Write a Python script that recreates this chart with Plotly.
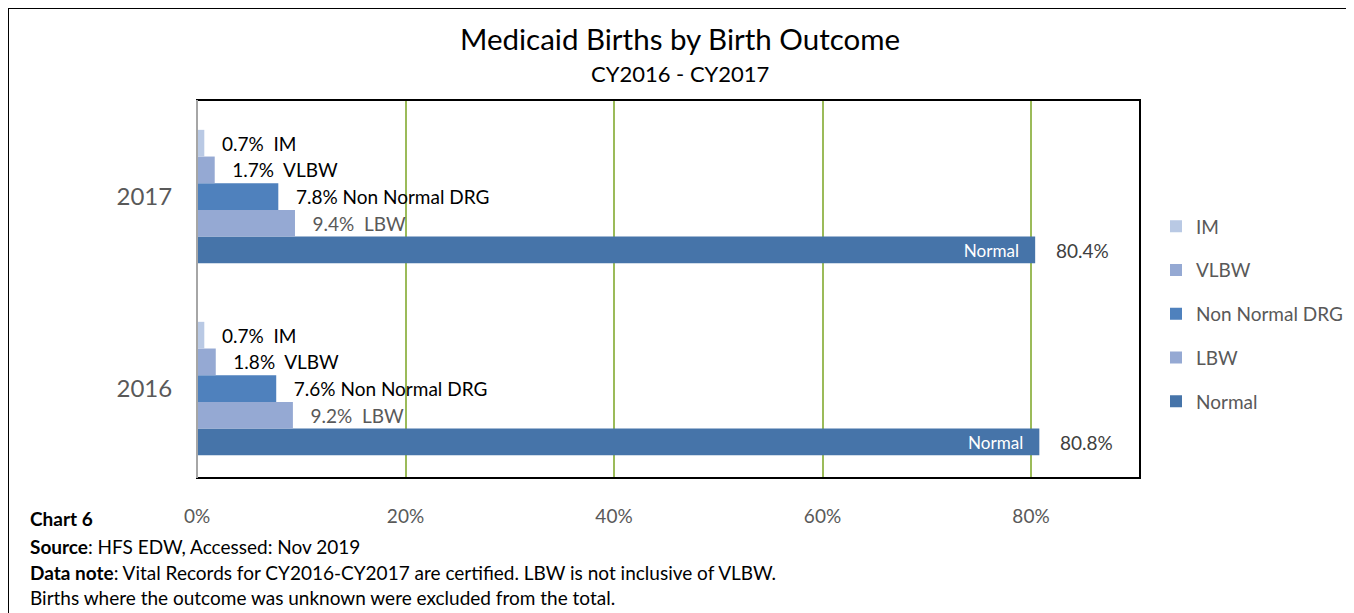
import plotly.graph_objects as go

years = ["2016", "2017"]
series = ["Normal", "LBW", "Non Normal DRG", "VLBW", "IM"]
values = {
    "Normal": [80.8, 80.4],
    "LBW": [9.2, 9.4],
    "Non Normal DRG": [7.6, 7.8],
    "VLBW": [1.8, 1.7],
    "IM": [0.7, 0.7],
}
colors = {
    "Normal": "#4674A9",
    "LBW": "#95A9D3",
    "Non Normal DRG": "#4F81BD",
    "VLBW": "#95A9D3",
    "IM": "#B9C9E4",
}
label_colors = {
    "LBW": "#595959",
    "Non Normal DRG": "#000000",
    "VLBW": "#000000",
    "IM": "#000000",
}
legend_rank = {"IM": 1, "VLBW": 2, "Non Normal DRG": 3, "LBW": 4, "Normal": 5}
xticks = [0, 20, 40, 60, 80]
FONT = "Lato, Carlito, Calibri, sans-serif"
NB = "\u00a0"

OFF = 8  # page body margin
W, H = 1354 - OFF, 613 - OFF
L, R, T, B = 197 - OFF, 1140 - OFF, 100 - OFF, 478 - OFF
pw, ph = R - L, B - T

def px(x):  # screen x -> paper
    return (x - OFF - L) / pw

def py(y):  # screen y -> paper
    return (B - (y - OFF)) / ph

fig = go.Figure()
for s in series:
    if s == "Normal":
        txt = ["Normal" + NB * 3] * len(years)
        fig.add_trace(go.Bar(
            y=years, x=values[s], name=s, orientation="h",
            marker=dict(color=colors[s], line=dict(width=0)),
            text=txt, textposition="inside", insidetextanchor="end",
            textfont=dict(color="white", size=19, family=FONT),
            legendgroup=s, legendrank=legend_rank[s],
        ))
    else:
        spacer = NB if s == "Non Normal DRG" else NB * 2
        txt = [NB * 3 + f"{v:.1f}%{spacer}{s}" for v in values[s]]
        fig.add_trace(go.Bar(
            y=years, x=values[s], name=s, orientation="h",
            marker=dict(color=colors[s], line=dict(width=0)),
            text=txt, textposition="outside",
            textfont=dict(color=label_colors[s], size=19, family=FONT),
            legendgroup=s, legendrank=legend_rank[s], cliponaxis=False,
        ))

annotations = []
for i, v in enumerate(values["Normal"]):
    annotations.append(dict(
        x=v, y=i, xref="x", yref="y", yshift=-53.5,
        text=f"{v:.1f}%", showarrow=False, xanchor="left", xshift=19,
        font=dict(size=19, color="#404040", family=FONT),
    ))

annotations += [
    dict(x=px(680), y=py(38), xref="paper", yref="paper", text="Medicaid Births by Birth Outcome",
         showarrow=False, font=dict(size=29.5, color="#000000", family=FONT), xanchor="center", yanchor="middle"),
    dict(x=px(680), y=py(73), xref="paper", yref="paper", text="CY2016 - CY2017",
         showarrow=False, font=dict(size=22, color="#000000", family=FONT), xanchor="center", yanchor="middle"),
    dict(x=px(28), y=py(519), xref="paper", yref="paper", text="<b>Chart 6</b>",
         showarrow=False, font=dict(size=19, color="#000000", family=FONT), xanchor="left", yanchor="middle"),
    dict(x=px(28), y=py(546), xref="paper", yref="paper", text="<b>Source</b>: HFS EDW, Accessed: Nov 2019",
         showarrow=False, font=dict(size=19, color="#000000", family=FONT), xanchor="left", yanchor="middle"),
    dict(x=px(28), y=py(572), xref="paper", yref="paper",
         text="<b>Data note</b>: Vital Records for CY2016-CY2017 are certified. LBW is not inclusive of VLBW.",
         showarrow=False, font=dict(size=19, color="#000000", family=FONT), xanchor="left", yanchor="middle"),
    dict(x=px(28), y=py(597), xref="paper", yref="paper",
         text="Births where the outcome was unknown were excluded from the total.",
         showarrow=False, font=dict(size=19, color="#000000", family=FONT), xanchor="left", yanchor="middle"),
]

shapes = [
    dict(type="rect", xref="paper", yref="paper", x0=px(8), x1=px(1350), y0=py(650), y1=py(8),
         line=dict(color="black", width=2), fillcolor="rgba(0,0,0,0)", layer="below"),
    dict(type="rect", xref="paper", yref="paper", x0=0, x1=1, y0=0, y1=1,
         line=dict(color="black", width=2), fillcolor="rgba(0,0,0,0)", layer="above"),
    dict(type="line", xref="paper", yref="paper", x0=0, x1=0, y0=0, y1=1,
         line=dict(color="#A6A6A6", width=2), layer="above"),
]

fig.update_layout(
    width=W, height=H,
    margin=dict(l=L, r=W - R, t=T, b=H - B, autoexpand=False),
    paper_bgcolor="white", plot_bgcolor="white",
    barmode="group", bargap=0.305, bargroupgap=0,
    font=dict(family=FONT, color="#595959"),
    showlegend=True,
    legend=dict(
        x=px(1156), y=py(314), xanchor="left", yanchor="middle",
        traceorder="grouped", tracegroupgap=16,
        font=dict(size=19, color="#595959", family=FONT),
        itemwidth=30, bgcolor="rgba(0,0,0,0)",
    ),
    annotations=annotations,
    shapes=shapes,
    xaxis=dict(
        range=[0, (R - L) / 208.5 * 20],
        tickvals=xticks, ticktext=[f"{t}%" for t in xticks],
        showgrid=True, gridcolor="#9BBB59", gridwidth=1.5,
        zeroline=False, showline=False,
        tickfont=dict(size=19, color="#595959", family=FONT),
        ticks="outside", ticklen=21, tickcolor="rgba(0,0,0,0)",
    ),
    yaxis=dict(
        type="category", range=[-0.466, 1.503],
        showgrid=False, zeroline=False, showline=False,
        tickfont=dict(size=24, color="#595959", family=FONT),
        ticks="outside", ticklen=19, tickcolor="rgba(0,0,0,0)",
    ),
)

fig.write_html("out.html")
